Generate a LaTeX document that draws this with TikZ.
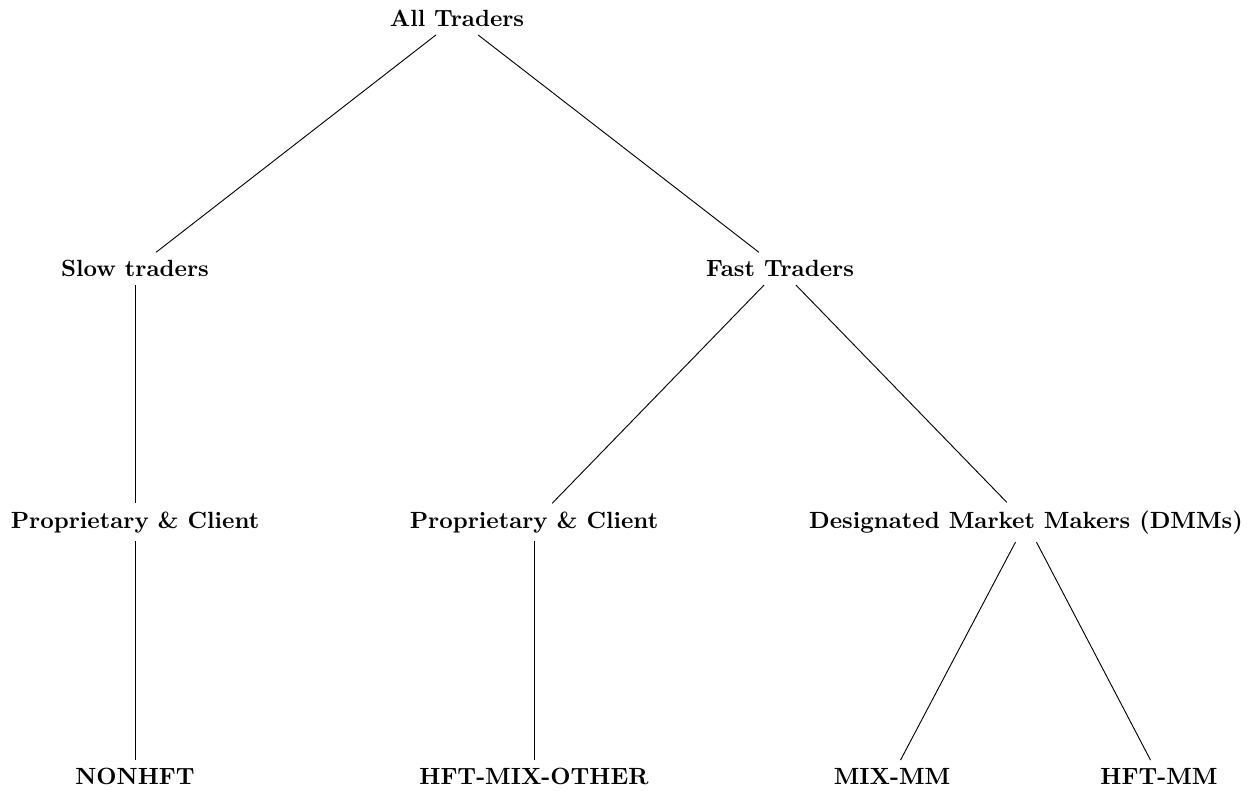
\documentclass[tikz,border=0pt]{standalone}
\begin{document}
\begin{tikzpicture}[x=1pt,y=-1pt,
  tn/.style={anchor=base,font=\fontsize{10.2}{12}\selectfont\bfseries,inner sep=3.33pt},
  tedge/.style={draw,line width=0.4pt}]
\useasboundingbox (0,0) rectangle (544.35,343.91);
\node[tn] (AT) at (198.70,11.61) {All Traders};
\node[tn] (ST) at (58.70,120.30) {Slow traders};
\node[tn] (FT) at (339.13,120.30) {Fast Traders};
\node[tn] (PC1) at (58.70,229.57) {Proprietary \& Client};
\node[tn] (PC2) at (232.17,229.57) {Proprietary \& Client};
\node[tn] (DMM) at (446.09,229.57) {Designated Market Makers (DMMs)};
\node[tn] (NON) at (58.70,341.0) {NONHFT};
\node[tn] (HMO) at (232.17,341.0) {HFT-MIX-OTHER};
\node[tn] (MIXMM) at (387.83,341.0) {MIX-MM};
\node[tn] (HFTMM) at (503.91,341.0) {HFT-MM};
\draw[tedge] (AT) -- (ST);
\draw[tedge] (AT) -- (FT);
\draw[tedge] (ST) -- (PC1);
\draw[tedge] (PC1) -- (NON);
\draw[tedge] (FT) -- (PC2);
\draw[tedge] (FT) -- (DMM);
\draw[tedge] (PC2) -- (HMO);
\draw[tedge] (DMM) -- (MIXMM);
\draw[tedge] (DMM) -- (HFTMM);
\end{tikzpicture}
\end{document}
